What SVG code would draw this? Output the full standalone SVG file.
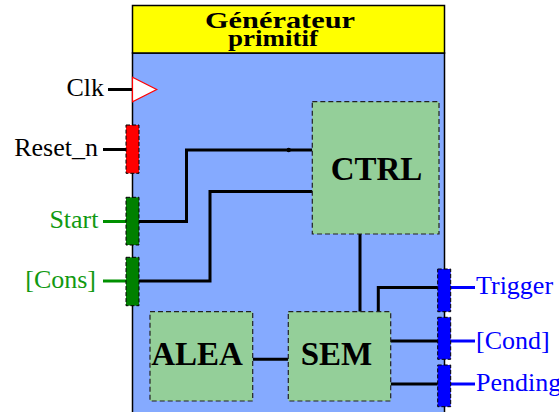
<svg xmlns="http://www.w3.org/2000/svg" width="559" height="412" viewBox="0 0 559 412">
<style>
.lbl{font-family:"Liberation Serif","Times New Roman",serif;font-size:26px}
.blk{font-family:"Liberation Serif","Times New Roman",serif;font-weight:bold;font-size:33px;text-anchor:middle;fill:#000}
.sub{fill:#94cf99;stroke:#222;stroke-width:1.2;stroke-dasharray:5,3}
.port{stroke:#000;stroke-width:1;stroke-dasharray:4,2}
.w{fill:none;stroke:#000;stroke-width:3}
</style>
<rect width="559" height="412" fill="#fff"/>
<g id="main">
<rect x="132.5" y="53" width="312" height="362" fill="#85aaff" stroke="#000" stroke-width="1.5"/>
<rect x="132.5" y="5.5" width="312" height="47.5" fill="#ffff00" stroke="#000" stroke-width="1.5"/>
<text x="205" y="28" textLength="150" lengthAdjust="spacingAndGlyphs" font-family="Liberation Serif,serif" font-weight="bold" font-size="23">Générateur</text>
<text x="228" y="46" textLength="90" lengthAdjust="spacingAndGlyphs" font-family="Liberation Serif,serif" font-weight="bold" font-size="23">primitif</text>
</g>
<g id="connectors">
<line x1="108" y1="89.5" x2="132.5" y2="89.5" stroke="#000" stroke-width="3"/>
<line x1="103" y1="149.5" x2="126" y2="149.5" stroke="#000" stroke-width="3"/>
<line x1="103" y1="221.5" x2="126" y2="221.5" stroke="#009000" stroke-width="3"/>
<line x1="103" y1="281" x2="126" y2="281" stroke="#009000" stroke-width="3"/>
<line x1="450.7" y1="287.5" x2="475" y2="287.5" stroke="#0000ff" stroke-width="3"/>
<line x1="450.7" y1="341" x2="475" y2="341" stroke="#0000ff" stroke-width="3"/>
<line x1="450.7" y1="384" x2="475" y2="384" stroke="#0000ff" stroke-width="3"/>
<polyline class="w" points="139,221.5 186.5,221.5 186.5,150 312.3,150"/>
<circle cx="288.7" cy="150" r="2.2" fill="#000"/>
<polyline class="w" points="139,281 210,281 210,191.5 312.3,191.5"/>
<line class="w" x1="360" y1="234" x2="360" y2="311.7"/>
<polyline class="w" points="378.3,311.7 378.3,287.5 437.7,287.5"/>
<line class="w" x1="390.7" y1="341" x2="437.7" y2="341"/>
<line class="w" x1="390.7" y1="384" x2="437.7" y2="384"/>
<line class="w" x1="252.7" y1="359.3" x2="288.3" y2="359.3"/>
</g>
<g id="clk">
<polygon points="132.5,77.3 156.7,89.5 132.5,101.7" fill="#fff" stroke="#ff0000" stroke-width="1.2"/>
<text class="lbl" x="104" y="96" text-anchor="end" fill="#000">Clk</text>
</g>
<g id="reset_n">
<rect class="port" x="126" y="125" width="13" height="48.3" fill="#ff0000"/>
<text class="lbl" x="98" y="156" text-anchor="end" fill="#000">Reset_n</text>
</g>
<g id="start">
<rect class="port" x="126" y="197.3" width="13" height="47.7" fill="#008000"/>
<text class="lbl" x="98.5" y="228" text-anchor="end" fill="#119911">Start</text>
</g>
<g id="cons">
<rect class="port" x="126" y="257.3" width="13" height="48.4" fill="#008000"/>
<text class="lbl" x="96" y="288" text-anchor="end" fill="#119911">[Cons]</text>
</g>
<g id="ctrl">
<rect class="sub" x="312.3" y="101.7" width="126.7" height="132.3"/>
<text class="blk" x="376.5" y="180">CTRL</text>
</g>
<g id="alea">
<rect class="sub" x="150" y="311.7" width="102.7" height="89.3"/>
<text class="blk" x="197" y="365">ALEA</text>
</g>
<g id="sem">
<rect class="sub" x="288.3" y="311.7" width="102.4" height="89.3"/>
<text class="blk" x="336.5" y="365">SEM</text>
</g>
<g id="trigger">
<rect class="port" x="437.7" y="269" width="13" height="42.7" fill="#0000ff"/>
<text class="lbl" x="476" y="294" fill="#0000ff">Trigger</text>
</g>
<g id="cond">
<rect class="port" x="437.7" y="317.3" width="13" height="42" fill="#0000ff"/>
<text class="lbl" x="476" y="349" fill="#0000ff">[Cond]</text>
</g>
<g id="pending">
<rect class="port" x="437.7" y="365" width="13" height="41.7" fill="#0000ff"/>
<text class="lbl" x="476" y="391" fill="#0000ff">Pending</text>
</g>
</svg>
